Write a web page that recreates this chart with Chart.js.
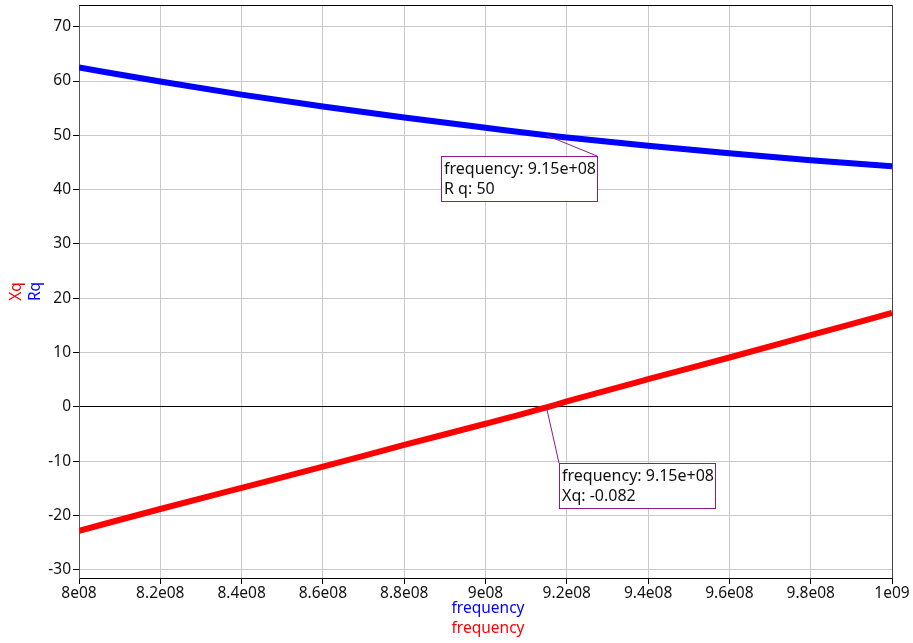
<!DOCTYPE html>
<html>
<head>
<meta charset="utf-8">
<script src="https://cdn.jsdelivr.net/npm/chart.js@4.4.1/dist/chart.umd.min.js"></script>
<style>
  html, body { margin: 0; padding: 0; background: #fff; }
  #wrap { width: 913px; height: 643px; position: relative; }
</style>
</head>
<body>
<div id="wrap"><canvas id="c"></canvas></div>
<script>
// Sweep frequencies (Hz) and the quadrature resistance / reactance at each
const frequency = [8.0e8, 8.2e8, 8.4e8, 8.6e8, 8.8e8, 9.0e8, 9.15e8, 9.2e8, 9.4e8, 9.6e8, 9.8e8, 1.0e9];
const Rq = [62.5, 59.9, 57.5, 55.3, 53.3, 51.4, 50.0, 49.6, 48.1, 46.7, 45.4, 44.3];
const Xq = [-22.8, -18.8, -14.9, -11.0, -7.0, -3.1, -0.082, 1.0, 5.1, 9.1, 13.2, 17.3];

// Marker readouts: index into the arrays above
const markerIndex = 6;

const yTicks = [-30, -20, -10, 0, 10, 20, 30, 40, 50, 60, 70];
const xTickStep = 2e7;

const FONT = '"Noto Sans", "Open Sans", sans-serif';

function sci(v) {
  if (v === 0) return '0';
  const e = Math.floor(Math.log10(Math.abs(v)) + 1e-9);
  const m = parseFloat((v / Math.pow(10, e)).toFixed(3));
  const es = (e < 0 ? '-' : '') + String(Math.abs(e)).padStart(2, '0');
  return m + 'e' + es;
}
function sciPlus(v) {
  const e = Math.floor(Math.log10(Math.abs(v)) + 1e-9);
  const m = (v / Math.pow(10, e)).toFixed(2);
  return m + 'e' + (e < 0 ? '-' : '+') + String(Math.abs(e)).padStart(2, '0');
}

const pts = arr => frequency.map((f, i) => ({ x: f, y: arr[i] }));

// Frame lines, axis titles and marker readout boxes
const decor = {
  id: 'decor',
  afterDatasetsDraw(chart) {
    const { ctx, chartArea: a, scales } = chart;
    ctx.save();
    // top / right frame
    ctx.strokeStyle = '#000';
    ctx.lineWidth = 1;
    ctx.beginPath();
    ctx.moveTo(a.left, a.top + 0.5); ctx.lineTo(a.right, a.top + 0.5);
    ctx.stroke();
    ctx.strokeStyle = '#444';
    ctx.beginPath();
    ctx.moveTo(a.right + 0.5, a.top); ctx.lineTo(a.right + 0.5, a.bottom);
    ctx.stroke();

    const markers = [
      { ds: Rq, name: 'R q', dx: 50.5, dy: 21, anchor: 'tr' },
      { ds: Xq, name: 'Xq', dx: 12.5, dy: 56, anchor: 'tl' }
    ];
    ctx.font = '16px ' + FONT;
    markers.forEach(m => {
      const f = frequency[markerIndex];
      const v = m.ds[markerIndex];
      const px = scales.x.getPixelForValue(f);
      const py = scales.y.getPixelForValue(v);
      const l1 = 'frequency: ' + sciPlus(f);
      const l2 = m.name + ': ' + v;
      const w = 156, h = 45;
      const cx = Math.round(px + m.dx), cy = Math.round(py + m.dy);
      const bx = m.anchor === 'tr' ? cx - w : cx;
      const by = cy;
      ctx.strokeStyle = '#8b1a8b';
      ctx.lineWidth = 1;
      ctx.beginPath();
      ctx.moveTo(px, py);
      ctx.lineTo(cx, cy);
      ctx.stroke();
      ctx.fillStyle = '#fff';
      ctx.fillRect(bx + 0.5, by + 0.5, w, h);
      ctx.strokeRect(bx + 0.5, by + 0.5, w, h);
      ctx.fillStyle = '#111';
      ctx.textAlign = 'left';
      ctx.textBaseline = 'middle';
      ctx.fillText(l1, bx + 3, by + 13);
      ctx.fillText(l2, bx + 3, by + 33);
    });

    // axis titles
    ctx.font = '15.5px ' + FONT;
    ctx.textAlign = 'center';
    ctx.textBaseline = 'middle';
    const midY = (a.top + a.bottom) / 2;
    [['Xq', '#ff0000', 17], ['Rq', '#0000ff', 36]].forEach(([t, c, x]) => {
      ctx.save();
      ctx.translate(x, midY);
      ctx.rotate(-Math.PI / 2);
      ctx.fillStyle = c;
      ctx.fillText(t, 0, 0);
      ctx.restore();
    });
    const midX = (a.left + a.right) / 2 + 2.5;
    ctx.fillStyle = '#0000ff';
    ctx.fillText('frequency', midX, 609);
    ctx.fillStyle = '#ff0000';
    ctx.fillText('frequency', midX, 629);
    ctx.restore();
  }
};

new Chart(document.getElementById('c'), {
  type: 'line',
  data: {
    datasets: [
      { label: 'Rq', data: pts(Rq), borderColor: '#0000ff', borderWidth: 6, pointRadius: 0, cubicInterpolationMode: 'monotone', fill: false },
      { label: 'Xq', data: pts(Xq), borderColor: '#ff0000', borderWidth: 6, pointRadius: 0, cubicInterpolationMode: 'monotone', fill: false }
    ]
  },
  options: {
    responsive: true,
    maintainAspectRatio: false,
    animation: false,
    events: [],
    layout: { padding: { left: 0, right: 21, top: 5, bottom: 0 } },
    plugins: { legend: { display: false }, tooltip: { enabled: false } },
    scales: {
      x: {
        type: 'linear',
        min: frequency[0],
        max: frequency[frequency.length - 1],
        afterFit: s => { s.height = 65; },
        ticks: {
          stepSize: xTickStep,
          color: '#111',
          font: { size: 15.5, family: FONT },
          padding: 0,
          maxRotation: 0,
          autoSkip: false,
          callback: v => sci(v)
        },
        grid: { color: '#c8c8c8', lineWidth: 1, tickLength: 6, tickColor: '#000' },
        border: { color: '#000', width: 1 }
      },
      y: {
        type: 'linear',
        min: -31.5,
        max: 74,
        afterFit: s => { s.width = 79; s.paddingTop = 0; s.paddingBottom = 0; },
        afterBuildTicks: s => { s.ticks = yTicks.map(v => ({ value: v })); },
        ticks: {
          color: '#111',
          font: { size: 15.5, family: FONT },
          padding: 2,
          includeBounds: false
        },
        grid: {
          color: c => (c.tick && c.tick.value === 0 ? '#000' : '#c8c8c8'),
          lineWidth: 1,
          tickLength: 6,
          tickColor: '#000'
        },
        border: { color: '#555', width: 1 }
      }
    }
  },
  plugins: [decor]
});
</script>
</body>
</html>
